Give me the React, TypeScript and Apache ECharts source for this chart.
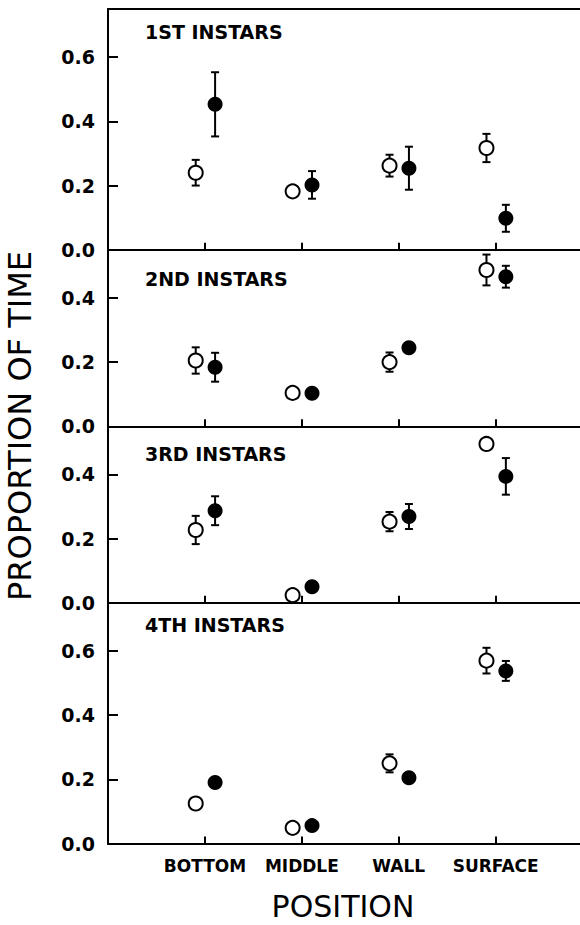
import React, { useEffect, useRef } from "react";
import * as echarts from "echarts";

const categories = ["BOTTOM", "MIDDLE", "WALL", "SURFACE"];
const panelTitles = ["1ST INSTARS", "2ND INSTARS", "3RD INSTARS", "4TH INSTARS"];
const panelMax = [0.75, 0.55, 0.55, 0.75];
const panelTicks = [
  [0, 0.2, 0.4, 0.6],
  [0, 0.2, 0.4],
  [0, 0.2, 0.4],
  [0, 0.2, 0.4, 0.6],
];

const openMean1 = [0.24, 0.182, 0.262, 0.317];
const openSE1 = [0.04, 0.01, 0.034, 0.044];
const filledMean1 = [0.453, 0.202, 0.254, 0.098];
const filledSE1 = [0.1, 0.043, 0.067, 0.042];

const openMean2 = [0.205, 0.104, 0.2, 0.487];
const openSE2 = [0.041, 0.01, 0.03, 0.048];
const filledMean2 = [0.184, 0.103, 0.245, 0.466];
const filledSE2 = [0.045, 0.01, 0.01, 0.034];

const openMean3 = [0.227, 0.024, 0.253, 0.495];
const openSE3 = [0.044, 0.01, 0.03, 0.01];
const filledMean3 = [0.287, 0.05, 0.269, 0.394];
const filledSE3 = [0.045, 0.01, 0.039, 0.057];

const openMean4 = [0.125, 0.049, 0.25, 0.57];
const openSE4 = [0.01, 0.01, 0.028, 0.04];
const filledMean4 = [0.19, 0.056, 0.205, 0.538];
const filledSE4 = [0.01, 0.01, 0.01, 0.031];

const openMeans = [openMean1, openMean2, openMean3, openMean4];
const openSEs = [openSE1, openSE2, openSE3, openSE4];
const filledMeans = [filledMean1, filledMean2, filledMean3, filledMean4];
const filledSEs = [filledSE1, filledSE2, filledSE3, filledSE4];

const FONT = "DejaVu Sans";
const PX_PER_UNIT = 321;
const TOP0 = 9;
const LEFT = 108;
const OPEN_OFFSET = -0.095;
const FILLED_OFFSET = 0.105;
const TITLE_DY = [22.7, 29, 28, 22];

export default function App() {
  const ref = useRef<HTMLDivElement>(null);
  useEffect(() => {
    if (!ref.current) return;
    const chart = echarts.init(ref.current, null, { renderer: "svg" });

    const tops: number[] = [];
    const heights: number[] = [];
    let t = TOP0;
    panelMax.forEach((m) => {
      tops.push(t);
      heights.push(m * PX_PER_UNIT);
      t += m * PX_PER_UNIT;
    });

    const grids = tops.map((top, i) => ({
      left: LEFT,
      right: 0,
      top,
      height: heights[i],
    }));

    const lineStyle = { color: "#000", width: 2 };

    const xAxes: any[] = panelMax.map((_, i) => ({
      type: "value",
      gridIndex: i,
      min: 0,
      max: 4.87,
      position: "bottom",
      axisLine: { show: true, onZero: false, lineStyle },
      axisTick: {
        show: true,
        inside: true,
        length: 7,
        lineStyle,
        customValues: [1, 2, 3, 4],
      },
      axisLabel: {
        show: i === 3,
        customValues: [1, 2, 3, 4],
        formatter: (v: number) => categories[Math.round(v) - 1] || "",
        fontFamily: FONT,
        fontWeight: "bold",
        fontSize: 17,
        color: "#000",
        margin: 14,
      },
      splitLine: { show: false },
    }));
    // top border of first panel
    xAxes.push({
      type: "value",
      gridIndex: 0,
      min: 0,
      max: 4.87,
      position: "top",
      axisLine: { show: true, onZero: false, lineStyle },
      axisTick: { show: false },
      axisLabel: { show: false },
      splitLine: { show: false },
    });

    const yAxes = panelMax.map((m, i) => ({
      type: "value",
      gridIndex: i,
      min: 0,
      max: m,
      axisLine: { show: true, onZero: false, lineStyle },
      axisTick: {
        show: true,
        inside: true,
        length: 10,
        lineStyle,
        customValues: panelTicks[i],
      },
      axisLabel: {
        customValues: panelTicks[i],
        formatter: (v: number) => v.toFixed(1),
        fontFamily: FONT,
        fontWeight: "bold",
        fontSize: 19,
        color: "#000",
        margin: 13,
      },
      splitLine: { show: false },
    }));

    const errRender = (params: any, api: any) => {
      const x = api.value(0);
      const lo = api.value(1);
      const hi = api.value(2);
      const p1 = api.coord([x, lo]);
      const p2 = api.coord([x, hi]);
      const cw = 4;
      const st = { stroke: "#000", lineWidth: 2 };
      return {
        type: "group",
        children: [
          { type: "line", shape: { x1: p1[0], y1: p1[1], x2: p2[0], y2: p2[1] }, style: st },
          { type: "line", shape: { x1: p1[0] - cw, y1: p1[1], x2: p1[0] + cw, y2: p1[1] }, style: st },
          { type: "line", shape: { x1: p2[0] - cw, y1: p2[1], x2: p2[0] + cw, y2: p2[1] }, style: st },
        ],
      };
    };

    const series: any[] = [];
    panelMax.forEach((_, i) => {
      const groups = [
        { means: openMeans[i], ses: openSEs[i], off: OPEN_OFFSET, open: true },
        { means: filledMeans[i], ses: filledSEs[i], off: FILLED_OFFSET, open: false },
      ];
      groups.forEach((g) => {
        series.push({
          type: "custom",
          xAxisIndex: i,
          yAxisIndex: i,
          renderItem: errRender,
          z: 1,
          clip: false,
          silent: true,
          data: g.means.map((m, k) => [k + 1 + g.off, m - g.ses[k], m + g.ses[k]]),
        });
        series.push({
          type: "scatter",
          xAxisIndex: i,
          yAxisIndex: i,
          z: 3,
          clip: false,
          symbol: "circle",
          symbolSize: g.open ? 14 : 15,
          itemStyle: g.open
            ? { color: "#fff", borderColor: "#000", borderWidth: 2, opacity: 1 }
            : { color: "#000", opacity: 1 },
          data: g.means.map((m, k) => [k + 1 + g.off, m]),
        });
      });
    });

    const graphics: any[] = panelTitles.map((title, i) => ({
      type: "text",
      x: 145,
      y: tops[i] + TITLE_DY[i],
      style: {
        text: title,
        fill: "#000",
        font: `bold 19px "${FONT}"`,
        textAlign: "left",
        textVerticalAlign: "middle",
      },
    }));
    graphics.push({
      type: "text",
      x: 20,
      y: 426,
      rotation: Math.PI / 2,
      style: {
        text: "PROPORTION OF TIME",
        fill: "#000",
        font: `32px "${FONT}"`,
        textAlign: "center",
        textVerticalAlign: "middle",
      },
    });
    graphics.push({
      type: "text",
      x: 343,
      y: 906,
      style: {
        text: "POSITION",
        fill: "#000",
        font: `30px "${FONT}"`,
        textAlign: "center",
        textVerticalAlign: "middle",
      },
    });

    chart.setOption({
      animation: false,
      backgroundColor: "#fff",
      textStyle: { fontFamily: FONT },
      grid: grids,
      xAxis: xAxes,
      yAxis: yAxes,
      series,
      graphic: graphics,
    });
    return () => chart.dispose();
  }, []);

  return (
    <div
      ref={ref}
      style={{ position: "absolute", left: 0, top: 0, width: 580, height: 925 }}
    />
  );
}
